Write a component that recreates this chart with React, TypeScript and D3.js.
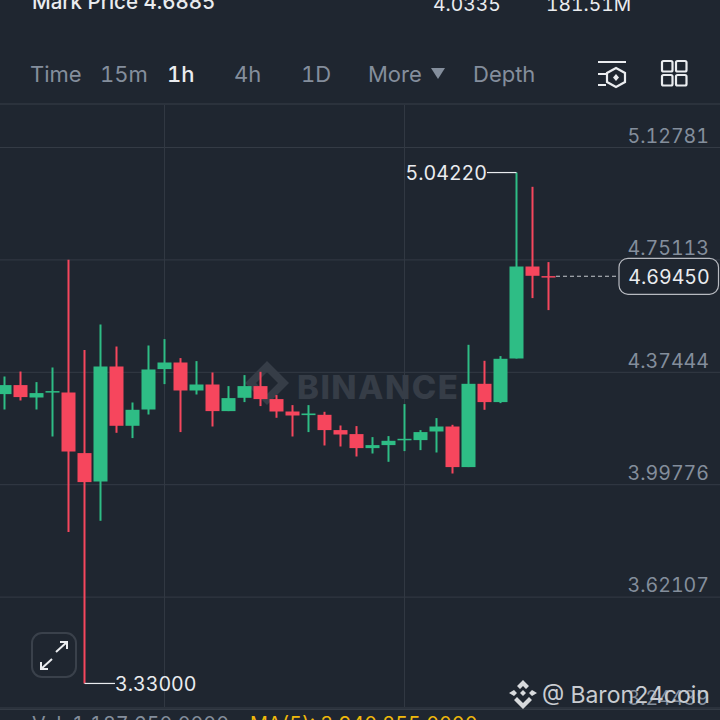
import React, { useEffect, useRef } from 'react';
import * as d3 from 'd3';

const opens = [4.2997, 4.3299, 4.2883, 4.3051, 4.3051, 4.1020, 4.0068, 4.3922, 4.1935, 4.2481, 4.3835, 4.4056, 4.3118, 4.3319, 4.2427, 4.2873, 4.3265, 4.2830, 4.2414, 4.2293, 4.2303, 4.1791, 4.1657, 4.1187, 4.1288, 4.1466, 4.1455, 4.1744, 4.1911, 4.0551, 4.3342, 4.2729, 4.4190, 4.7273, 4.6952];
const highs = [4.3587, 4.3754, 4.3399, 4.3889, 4.7498, 4.4472, 4.5330, 4.4592, 4.2716, 4.4626, 4.4840, 4.4204, 4.4103, 4.3721, 4.3265, 4.3634, 4.3744, 4.2964, 4.2628, 4.2628, 4.2404, 4.1945, 4.1925, 4.1556, 4.1590, 4.2662, 4.1791, 4.2193, 4.1968, 4.4649, 4.4113, 4.4271, 5.0422, 4.9944, 4.7421];
const lows = [4.2481, 4.2783, 4.2481, 4.1576, 3.8372, 3.33, 3.8751, 4.17, 4.1523, 4.2313, 4.3332, 4.1724, 4.2984, 4.1911, 4.2427, 4.2729, 4.2595, 4.2203, 4.1576, 4.1724, 4.1275, 4.1241, 4.0906, 4.1006, 4.0728, 4.1087, 4.112, 4.104, 4.0336, 4.0551, 4.2471, 4.2695, 4.419, 4.6214, 4.5812];
const closes = [4.3299, 4.2897, 4.3031, 4.3098, 4.1073, 4.0048, 4.3922, 4.1935, 4.2471, 4.3822, 4.4056, 4.3118, 4.3319, 4.2427, 4.2863, 4.3265, 4.2830, 4.2414, 4.2280, 4.2347, 4.1791, 4.1643, 4.1187, 4.1288, 4.1432, 4.1499, 4.1724, 4.1911, 4.0551, 4.3342, 4.2729, 4.4180, 4.7273, 4.6962, 4.6945];

const priceTicks = [5.12781, 4.75113, 4.37444, 3.99776, 3.62107, 3.24439];
const timeGridIndexes = [10, 25];
const lastPrice = 4.6945;
const highMark = { index: 32, price: 5.0422 };
const lowMark = { index: 5, price: 3.33 };

const tabs = ['Time', '15m', '1h', '4h', '1D', 'More', 'Depth'];
const tabX = [30, 100, 167, 234, 301, 368, 473];

const BG = '#1f2630';
const UP = '#2ebd85';
const DOWN = '#f6465d';
const FONT = 'Inter, Roboto, sans-serif';
const TNUM = 'tabular-nums';
const PRICE_SIZE = '19.6px';

export default function App() {
  const svgRef = useRef<SVGSVGElement>(null);

  useEffect(() => {
    if (!svgRef.current) return;
    const svg = d3.select(svgRef.current);
    svg.selectAll('*').remove();

    const xScale = d3.scaleLinear().domain([0, opens.length - 1]).range([4.5, 548.5]);
    const yScale = d3.scaleLinear().domain([3.24439, 5.12781]).range([709, 147]);
    const fmt = d3.format('.5f');

    svg.append('rect').attr('width', 720).attr('height', 720).attr('fill', BG);

    // Header scraps cut off by the screenshot
    const header = svg.append('g').style('font-family', FONT).style('font-size', '19.3px').style('font-variant-numeric', TNUM).attr('fill', '#eaecef');
    header.append('text').attr('x', 32).attr('y', 9).style('font-size', '20.5px').style('font-weight', 500).text('Mark Price  4.6885');
    header.append('text').attr('x', 433).attr('y', 11).text('4.0335');
    header.append('text').attr('x', 546).attr('y', 11).text('181.51M');

    // Tabs
    const tabsG = svg.append('g').style('font-family', FONT).style('font-size', '22px').style('font-variant-numeric', TNUM);
    tabs.forEach((t, i) => {
      tabsG.append('text')
        .attr('x', tabX[i])
        .attr('y', 82)
        .attr('fill', t === '1h' ? '#eaecef' : '#848e9c')
        .style('font-weight', t === '1h' ? 500 : 400)
        .text(t);
    });
    svg.append('path').attr('d', 'M431,68H445L438,79Z').attr('fill', '#848e9c');

    // Toolbar icons
    const icon = svg.append('g').attr('fill', 'none').attr('stroke', '#eaecef').attr('stroke-width', 2.2);
    icon.append('path').attr('d', 'M598,62H626M598,74H606M598,85H606');
    icon.append('path').attr('d', 'M616,68L625,73V82L616,87L607,82V73Z');
    icon.append('path').attr('d', 'M616,74L619,77.5L616,81L613,77.5Z').attr('fill', '#eaecef').attr('stroke', 'none');
    [[662, 61], [676, 61], [662, 75], [676, 75]].forEach(([x, y]) => {
      icon.append('rect').attr('x', x).attr('y', y).attr('width', 10.5).attr('height', 10.5).attr('rx', 1.5);
    });

    svg.append('line').attr('x1', 0).attr('x2', 720).attr('y1', 104).attr('y2', 104).attr('stroke', '#2b323c').attr('stroke-width', 2);
    svg.append('line').attr('x1', 0).attr('x2', 720).attr('y1', 708).attr('y2', 708).attr('stroke', '#2b323c').attr('stroke-width', 2);

    // Grid
    const gridY = svg.append('g').call(
      d3.axisLeft(yScale).tickValues(priceTicks).tickSize(-720).tickFormat(() => '')
    );
    gridY.select('.domain').remove();
    gridY.selectAll('line').attr('stroke', '#343b45').attr('stroke-width', 1);

    svg.append('g').selectAll('line').data(timeGridIndexes).enter().append('line')
      .attr('x1', d => xScale(d)).attr('x2', d => xScale(d))
      .attr('y1', 105).attr('y2', 707)
      .attr('stroke', '#313842').attr('stroke-width', 1);

    // Watermark
    const wm = svg.append('g').attr('fill', '#363d47');
    wm.append('path').attr('d', 'M267,361L289,383L267,405L245,383ZM267,372L256,383L267,394L278,383Z').attr('fill-rule', 'evenodd');
    wm.append('text').attr('x', 297).attr('y', 399).style('font-family', FONT).style('font-size', '33px').style('font-weight', 800).style('letter-spacing', '1.5px').text('BINANCE');

    // Candles
    const candles = svg.append('g');
    d3.range(opens.length).forEach(i => {
      const up = closes[i] >= opens[i];
      const color = up ? UP : DOWN;
      candles.append('line')
        .attr('x1', xScale(i)).attr('x2', xScale(i))
        .attr('y1', yScale(highs[i])).attr('y2', yScale(lows[i]))
        .attr('stroke', color).attr('stroke-width', 2);
      const top = yScale(Math.max(opens[i], closes[i]));
      const bottom = yScale(Math.min(opens[i], closes[i]));
      candles.append('rect')
        .attr('x', xScale(i) - 7).attr('width', 14)
        .attr('y', top).attr('height', Math.max(1.5, bottom - top))
        .attr('fill', color);
    });

    // Price axis labels sit just above their gridlines
    const axisG = svg.append('g')
      .attr('transform', 'translate(709,-11)')
      .call(d3.axisLeft(yScale).tickValues(priceTicks).tickSize(0).tickPadding(0).tickFormat(d => fmt(d as number)));
    axisG.select('.domain').remove();
    axisG.selectAll('text')
      .attr('fill', '#848e9c')
      .style('font-family', FONT)
      .style('font-variant-numeric', TNUM)
      .style('font-size', PRICE_SIZE);

    // High / low markers
    const marks = svg.append('g').style('font-family', FONT).style('font-size', PRICE_SIZE).style('font-variant-numeric', TNUM);
    const hy = yScale(highMark.price);
    marks.append('line').attr('x1', 487).attr('x2', xScale(highMark.index)).attr('y1', hy).attr('y2', hy).attr('stroke', '#eaecef').attr('stroke-width', 1.2);
    marks.append('text').attr('x', 487).attr('y', hy + 7.5).attr('text-anchor', 'end').attr('fill', '#eaecef').text(fmt(highMark.price));
    const ly = yScale(lowMark.price);
    marks.append('line').attr('x1', xScale(lowMark.index)).attr('x2', 115).attr('y1', ly).attr('y2', ly).attr('stroke', '#eaecef').attr('stroke-width', 1.2);
    marks.append('text').attr('x', 115).attr('y', ly + 7.5).attr('fill', '#eaecef').text(fmt(lowMark.price));

    // Last price tag
    const py = yScale(lastPrice);
    svg.append('line').attr('x1', 556).attr('x2', 619).attr('y1', py).attr('y2', py)
      .attr('stroke', '#c4c7cc').attr('stroke-width', 1.1).attr('stroke-dasharray', '4 3');
    svg.append('rect').attr('x', 619).attr('y', py - 18).attr('width', 99.5).attr('height', 36).attr('rx', 9)
      .attr('fill', BG).attr('stroke', '#b7bac0').attr('stroke-width', 1.2);
    svg.append('text').attr('x', 669).attr('y', py + 7.5).attr('text-anchor', 'middle').attr('fill', '#eaecef')
      .style('font-family', FONT).style('font-variant-numeric', TNUM).style('font-size', PRICE_SIZE).text(fmt(lastPrice));

    // Expand button
    svg.append('rect').attr('x', 32).attr('y', 633).attr('width', 44).attr('height', 44).attr('rx', 10)
      .attr('fill', BG).attr('stroke', '#3a414b').attr('stroke-width', 2);
    svg.append('path').attr('d', 'M56,652L67,642M60,642H67V649M52,659L41,669M41,662V669H48')
      .attr('fill', 'none').attr('stroke', '#eaecef').attr('stroke-width', 2);

    // Author watermark over the last axis label
    const diamond = svg.append('g').attr('fill', '#d8dadd');
    diamond.append('path').attr('d', 'M523,680L529,686L526,689L523,686L520,689L517,686Z');
    diamond.append('path').attr('d', 'M514,690L517,693L514,696L509,693ZM532,690L537,693L532,696L529,693Z');
    diamond.append('path').attr('d', 'M523,690L526,693L523,696L520,693Z');
    diamond.append('path').attr('d', 'M517,697L523,703L529,697L532,700L523,709L514,700Z');
    svg.append('text').attr('x', 542).attr('y', 703).attr('fill', '#c9ccd1')
      .style('font-family', FONT).style('font-size', '23px').style('font-variant-numeric', TNUM).text('@ Baron24coin');

    // Volume line cut off at the bottom
    const vol = svg.append('g').style('font-family', FONT).style('font-size', '19.8px').style('font-variant-numeric', TNUM);
    vol.append('text').attr('x', 32).attr('y', 731).attr('fill', '#848e9c').text('Vol: 1,187,650.0000');
    vol.append('text').attr('x', 250).attr('y', 731).attr('fill', '#f0b90b').text('MA(5): 3,940,255.0000');
  }, []);

  return (
    <svg
      ref={svgRef}
      width={720}
      height={720}
      style={{ position: 'fixed', left: 0, top: 0, display: 'block' }}
    />
  );
}
